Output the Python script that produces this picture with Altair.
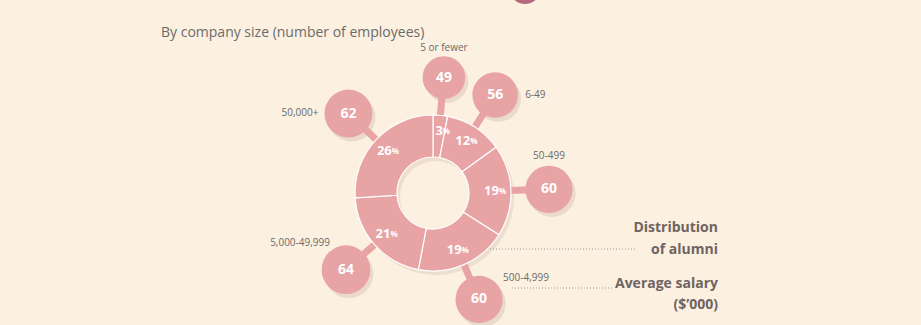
import math
import altair as alt
import pandas as pd

# ---- data ----
sizes = ["5 or fewer", "6-49", "50-499", "500-4,999", "5,000-49,999", "50,000+"]
share = [3, 12, 19, 19, 21, 26]          # distribution of alumni, %
salary = [49, 56, 60, 60, 64, 62]        # average salary, $'000

# ---- layout (pixels) ----
W, H = 921, 325
CX, CY = 433, 193
R_OUT, R_IN = 78, 36
R_BUB = 116
R_LAB = 62
PINK = "#E8A3A5"
BG = "#FCF0E0"
GREY = "#6b6b6b"
FONT = "Open Sans"

# label placement relative to each bubble: dx, dy, align
label_layout = {
    "5 or fewer": (0, -30, "center"),
    "6-49": (30, 0, "left"),
    "50-499": (0, -33, "center"),
    "500-4,999": (24, -21, "left"),
    "5,000-49,999": (-16, -27, "right"),
    "50,000+": (-30, -1, "right"),
}

df = pd.DataFrame({"size": sizes, "share": share, "salary": salary})
df["order"] = range(len(df))
cum = df["share"].cumsum()
df["mid"] = (cum - df["share"] / 2) / df["share"].sum() * 2 * math.pi
df["bx"] = CX + R_BUB * df["mid"].apply(math.sin)
df["by"] = CY - R_BUB * df["mid"].apply(math.cos)
df["ex"] = CX + (R_OUT - 2) * df["mid"].apply(math.sin)
df["ey"] = CY - (R_OUT - 2) * df["mid"].apply(math.cos)
df["pct_num"] = df["share"].astype(str)
df["pct_sign"] = "%"
df["salary_txt"] = df["salary"].astype(str)

xs = alt.Scale(domain=[0, W], nice=False, zero=False)
ys = alt.Scale(domain=[0, H], nice=False, zero=False, reverse=True)


def X(f):
    return alt.X(f, type="quantitative", scale=xs, axis=None)


def Y(f):
    return alt.Y(f, type="quantitative", scale=ys, axis=None)


base = alt.Chart(df)

theta = alt.Theta("share:Q", stack=True)
order = alt.Order("order:Q")

donut_shadow = base.mark_arc(radius=R_OUT, radius2=R_IN, color="#9b7a66", opacity=0.15,
                             xOffset=3, yOffset=4).encode(
    theta=theta, order=order, x=alt.value(CX), y=alt.value(CY))
donut = base.mark_arc(radius=R_OUT, radius2=R_IN, stroke="white", strokeWidth=1.2,
                      color=PINK).encode(
    theta=theta, order=order, x=alt.value(CX), y=alt.value(CY))

pct_num = base.mark_text(radius=R_LAB, font=FONT, fontWeight="bold", fontSize=13,
                         color="white", align="right", baseline="middle", dx=4).encode(
    theta=theta, order=order, x=alt.value(CX), y=alt.value(CY), text="pct_num:N")
pct_sign = base.mark_text(radius=R_LAB, font=FONT, fontWeight="bold", fontSize=8,
                          color="white", align="left", baseline="middle", dx=4, dy=1).encode(
    theta=theta, order=order, x=alt.value(CX), y=alt.value(CY), text="pct_sign:N")

connectors = base.mark_rule(color=PINK, strokeWidth=7).encode(
    x=X("ex"), y=Y("ey"), x2="bx:Q", y2="by:Q")

size_scale = alt.Scale(domain=[0, 64], range=[0, math.pi * 27.5 ** 2])
shadow = base.mark_circle(color="#9b7a66", opacity=0.18, xOffset=3, yOffset=4).encode(
    x=X("bx"), y=Y("by"), size=alt.Size("salary:Q", scale=size_scale, legend=None))
bubbles = base.mark_circle(color=PINK, opacity=1).encode(
    x=X("bx"), y=Y("by"), size=alt.Size("salary:Q", scale=size_scale, legend=None))
bubble_txt = base.mark_text(font=FONT, fontWeight="bold", fontSize=14, color="white",
                            baseline="middle").encode(
    x=X("bx"), y=Y("by"), text="salary_txt:N")

cat_layers = []
for name, (dx, dy, al) in label_layout.items():
    cat_layers.append(
        base.transform_filter(alt.datum.size == name).mark_text(
            font=FONT, fontSize=10, color=GREY, align=al, baseline="middle", dx=dx, dy=dy
        ).encode(x=X("bx"), y=Y("by"), text="size:N")
    )

title = alt.Chart(pd.DataFrame({"t": ["By company size (number of employees)"]})).mark_text(
    font=FONT, fontSize=14, color=GREY, align="left", baseline="middle").encode(
    x=alt.value(161), y=alt.value(33), text="t:N")

top_dot = alt.Chart(pd.DataFrame({"t": [0]})).mark_circle(
    color="#B36A7D", opacity=1, size=math.pi * 18 ** 2).encode(
    x=alt.value(525), y=alt.value(-12))

ann_color = "#6e6462"
ann1 = alt.Chart(pd.DataFrame({"t": [["Distribution", "of alumni"]]})).mark_text(
    font=FONT, fontSize=14, fontWeight="bold", color=ann_color, align="right",
    baseline="middle", lineHeight=22).encode(x=alt.value(718), y=alt.value(228), text="t")
ann2 = alt.Chart(pd.DataFrame({"t": [["Average salary", "($\u2019000)"]]})).mark_text(
    font=FONT, fontSize=14, fontWeight="bold", color=ann_color, align="right",
    baseline="middle", lineHeight=21).encode(x=alt.value(718), y=alt.value(284), text="t")

dots1 = alt.Chart(pd.DataFrame({"t": [0]})).mark_rule(
    color="#9a9a9a", strokeWidth=1, strokeDash=[1, 2]).encode(
    x=alt.value(490), x2=alt.value(636), y=alt.value(249))
dots2 = alt.Chart(pd.DataFrame({"t": [0]})).mark_rule(
    color="#9a9a9a", strokeWidth=1, strokeDash=[1, 2]).encode(
    x=alt.value(512), x2=alt.value(612), y=alt.value(288))

chart = alt.layer(
    top_dot, title, dots1, dots2, shadow, donut_shadow, connectors, donut, pct_num, pct_sign,
    bubbles, bubble_txt, *cat_layers, ann1, ann2
).properties(
    width=W, height=H, padding=0, autosize=alt.AutoSizeParams(type="none"),
    background=BG
).configure_view(stroke=None)

chart.save("out.html", embed_options={"renderer": "svg", "actions": False})
